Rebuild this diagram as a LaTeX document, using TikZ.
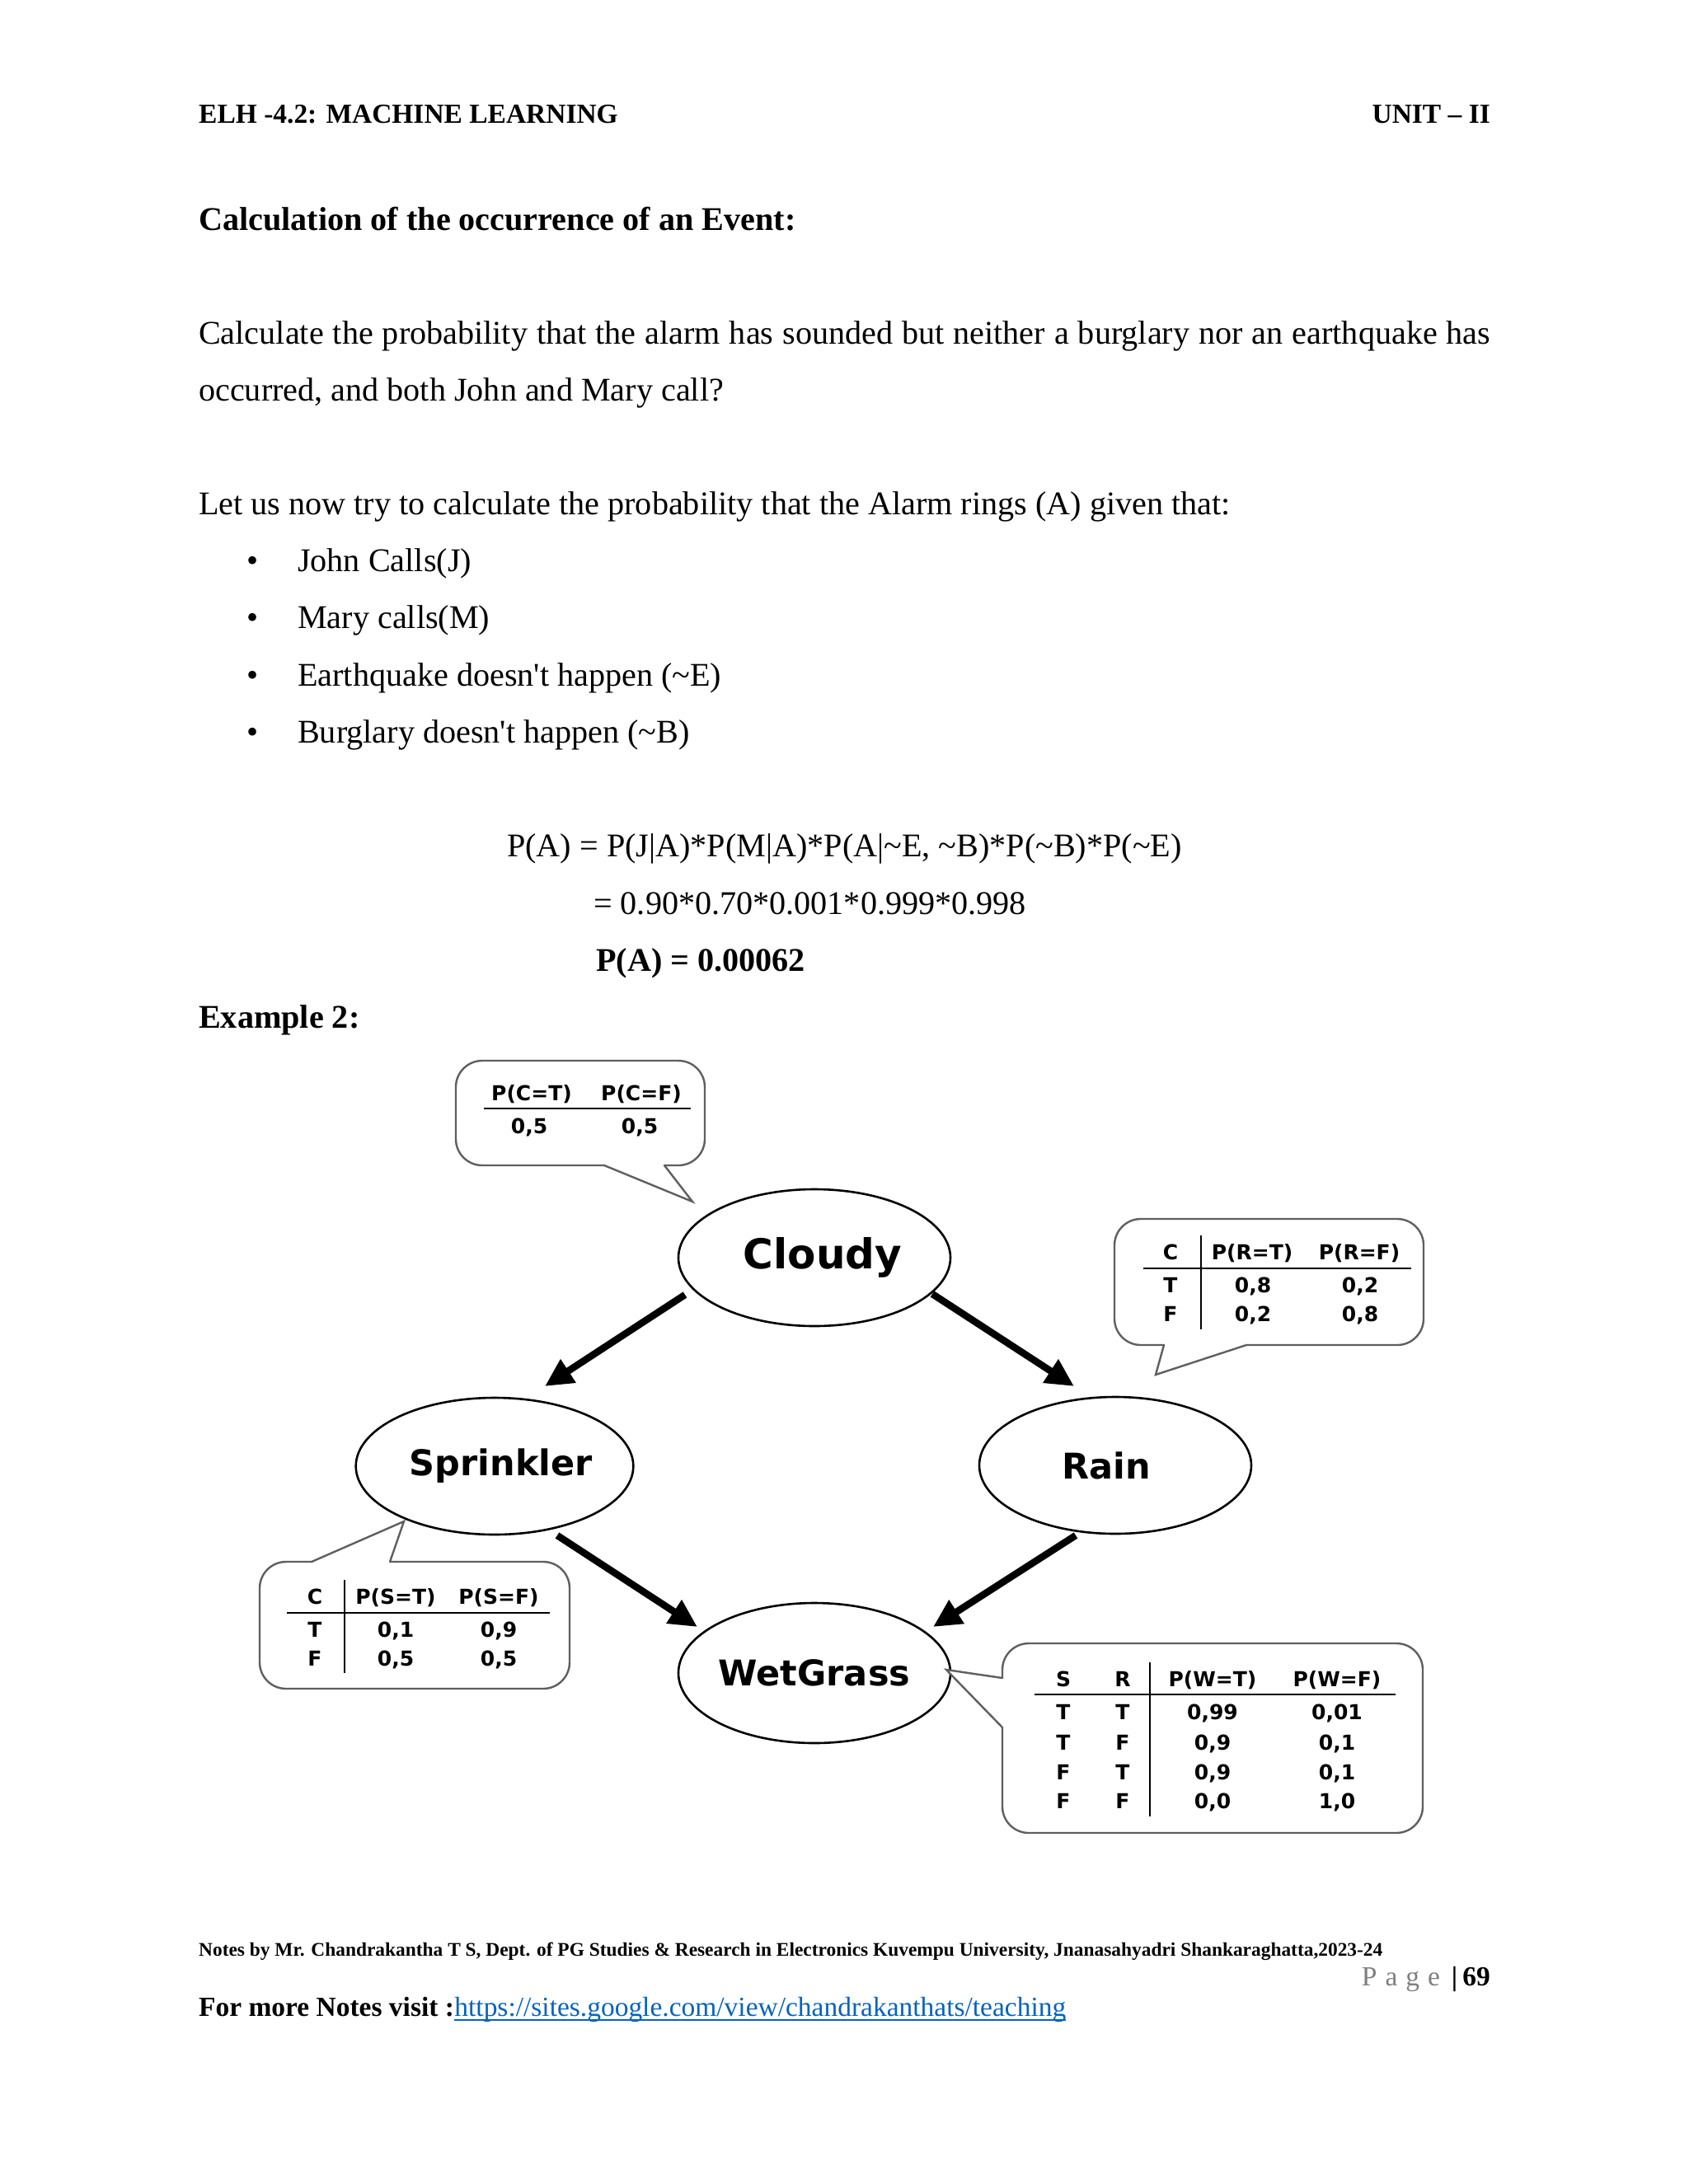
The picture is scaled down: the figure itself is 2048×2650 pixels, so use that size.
\documentclass[tikz,border=0pt]{standalone}
\usepackage{fontspec}
\setmainfont{Liberation Serif}
\newfontfamily\dv{DejaVu Sans}
\usetikzlibrary{shapes.geometric,arrows.meta,calc}
\definecolor{linkblue}{RGB}{5,99,193}
\definecolor{bubblec}{RGB}{95,95,95}
\definecolor{pagegray}{RGB}{127,127,127}
\newcommand\bodysize{\fontsize{40.16}{48}\selectfont}
\newcommand\hdrsize{\fontsize{33.47}{40}\selectfont}
\newcommand\notesize{\fontsize{23.4}{28}\selectfont}
\newcommand\tabsize{\fontsize{25}{30}\selectfont}
\begin{document}
\begin{tikzpicture}[x=1pt,y=-1pt,
  txt/.style={anchor=base west,inner sep=0,font=\bodysize},
  hdr/.style={inner sep=0,font=\hdrsize\bfseries},
  bnode/.style={ellipse,draw=black,line width=2.6pt,fill=white,minimum width=330pt,minimum height=166pt,inner sep=0,font=\dv\bfseries\fontsize{43}{50}\selectfont},
  arr/.style={line width=8.5pt,-{Triangle[length=34pt,width=32pt]}},
  bub/.style={draw=bubblec,line width=2.4pt,fill=white,rounded corners=32pt},
  tailside/.style={draw=bubblec,line width=2.4pt,line join=miter},
  tt/.style={anchor=base,inner sep=0,font=\dv\bfseries\tabsize},
  rule/.style={line width=2.8pt,draw=black}]
\useasboundingbox[fill=white] (0,0) rectangle (2048,2650);

% header
\node[hdr,anchor=base west] (h1) at (241,149) {ELH -4.2: MACHINE LEARNING};
\node[hdr,anchor=base east] (h2) at (1808,149) {UNIT \textendash{} II};

% body text
\node[txt,font=\bodysize\bfseries] (title) at (241,279) {Calculation of the occurrence of an Event:};
\node[txt] (l1) at (241,417) {\makebox[1567pt][s]{Calculate the probability that the alarm has sounded but neither a burglary nor an earthquake has}};
\node[txt] (l2) at (241,486) {occurred, and both John and Mary call?};
\node[txt] (l3) at (241,624) {Let us now try to calculate the probability that the Alarm rings (A) given that:};
\node[anchor=base,inner sep=0,font=\bodysize] (b1) at (307,693) {•};
\node[anchor=base,inner sep=0,font=\bodysize] (b2) at (307,762) {•};
\node[anchor=base,inner sep=0,font=\bodysize] (b3) at (307,832) {•};
\node[anchor=base,inner sep=0,font=\bodysize] (b4) at (307,901) {•};
\node[txt] (t1) at (361,693) {John Calls(J)};
\node[txt] (t2) at (361,762) {Mary calls(M)};
\node[txt] (t3) at (361,832) {Earthquake doesn\textquotesingle t happen (\textasciitilde E)};
\node[txt] (t4) at (361,901) {Burglary doesn\textquotesingle t happen (\textasciitilde B)};
\node[txt] (f1) at (615,1039) {P(A) = P(J|A)*P(M|A)*P(A|\textasciitilde E, \textasciitilde B)*P(\textasciitilde B)*P(\textasciitilde E)};
\node[txt] (f2) at (720,1109) {= 0.90*0.70*0.001*0.999*0.998};
\node[txt,font=\bodysize\bfseries] (f3) at (723,1178) {P(A) = 0.00062};
\node[txt,font=\bodysize\bfseries] (ex) at (241,1247) {Example 2:};

% ---------- diagram ----------
% Cloudy CPT bubble
\draw[bub] (553,1287) rectangle (855,1414);
\fill[white] (734,1410) -- (734,1417) -- (840,1458) -- (805,1417) -- (805,1410) -- cycle;
\draw[tailside] (733,1414) -- (840,1458) -- (806,1414);
\node[tt] (cc1) at (645,1335) {P(C=T)};
\node[tt] (cc2) at (778,1335) {P(C=F)};
\draw[rule] (587,1345) -- (838,1345);
\node[tt] (cc3) at (642,1375) {0,5};
\node[tt] (cc4) at (776,1375) {0,5};

% Rain CPT bubble
\draw[bub] (1352,1479) rectangle (1727,1632);
\fill[white] (1413,1628) -- (1413,1635) -- (1402,1668) -- (1511,1635) -- (1511,1628) -- cycle;
\draw[tailside] (1412,1632) -- (1402,1668) -- (1512,1632);
\node[tt] (rc1) at (1420,1528) {C};
\node[tt] (rc2) at (1519,1528) {P(R=T)};
\node[tt] (rc3) at (1649,1528) {P(R=F)};
\draw[rule] (1387,1539) -- (1712,1539);
\draw[rule] (1457,1499) -- (1457,1613);
\node[tt] (rc4) at (1420,1568) {T};
\node[tt] (rc5) at (1520,1568) {0,8};
\node[tt] (rc6) at (1650,1568) {0,2};
\node[tt] (rc7) at (1420,1603) {F};
\node[tt] (rc8) at (1520,1603) {0,2};
\node[tt] (rc9) at (1650,1603) {0,8};

% nodes
\node[bnode,font=\dv\bfseries\fontsize{50}{56}\selectfont] (cloudy) at (988,1526) {\hspace*{20pt}Cloudy};
\node[bnode] (sprinkler) at (600,1779) {\hspace*{16pt}Sprinkler};
\node[bnode] (rain) at (1353,1778) {Rain\hspace*{22pt}};
\node[bnode,minimum height=170pt] (wetgrass) at (988,2030) {WetGrass};

% Sprinkler CPT bubble
\draw[bub] (315,1895) rectangle (691,2049);
\fill[white] (379,1899) -- (379,1892) -- (490,1846) -- (472,1892) -- (472,1899) -- cycle;
\draw[tailside] (378,1895) -- (490,1846) -- (473,1895);
\node[tt] (sc1) at (382,1946) {C};
\node[tt] (sc2) at (480,1946) {P(S=T)};
\node[tt] (sc3) at (605,1946) {P(S=F)};
\draw[rule] (348,1957) -- (667,1957);
\draw[rule] (418,1917) -- (418,2030);
\node[tt] (sc4) at (382,1986) {T};
\node[tt] (sc5) at (480,1986) {0,1};
\node[tt] (sc6) at (605,1986) {0,9};
\node[tt] (sc7) at (382,2021) {F};
\node[tt] (sc8) at (480,2021) {0,5};
\node[tt] (sc9) at (605,2021) {0,5};

% WetGrass CPT bubble
\draw[bub] (1216,1994) rectangle (1726,2224);
\fill[white] (1220,2037) -- (1213,2037) -- (1148,2026) -- (1213,2095) -- (1220,2095) -- cycle;
\draw[tailside] (1216,2036) -- (1148,2026) -- (1216,2096);
\node[tt] (wc1) at (1290,2046) {S};
\node[tt] (wc2) at (1362,2046) {R};
\node[tt] (wc3) at (1471,2046) {P(W=T)};
\node[tt] (wc4) at (1622,2046) {P(W=F)};
\draw[rule] (1255,2056) -- (1693,2056);
\draw[rule] (1395,2017) -- (1395,2204);
\node[tt] (w11) at (1290,2086) {T};
\node[tt] (w12) at (1362,2086) {T};
\node[tt] (w13) at (1471,2086) {0,99};
\node[tt] (w14) at (1622,2086) {0,01};
\node[tt] (w21) at (1290,2123) {T};
\node[tt] (w22) at (1362,2123) {F};
\node[tt] (w23) at (1471,2123) {0,9};
\node[tt] (w24) at (1622,2123) {0,1};
\node[tt] (w31) at (1290,2159) {F};
\node[tt] (w32) at (1362,2159) {T};
\node[tt] (w33) at (1471,2159) {0,9};
\node[tt] (w34) at (1622,2159) {0,1};
\node[tt] (w41) at (1290,2194) {F};
\node[tt] (w42) at (1362,2194) {F};
\node[tt] (w43) at (1471,2194) {0,0};
\node[tt] (w44) at (1622,2194) {1,0};

% arrows
\coordinate (a1s) at ($(cloudy)+(-157,45)$);
\coordinate (a1e) at ($(sprinkler)+(61,-97)$);
\coordinate (a2s) at ($(cloudy)+(143,44)$);
\coordinate (a2e) at ($(rain)+(-50,-96)$);
\coordinate (a3s) at ($(sprinkler)+(76,84)$);
\coordinate (a3e) at ($(wetgrass)+(-142,-56)$);
\coordinate (a4s) at ($(rain)+(-48,85)$);
\coordinate (a4e) at ($(wetgrass)+(144,-56)$);
\draw[arr] (a1s) -- (a1e);
\draw[arr] (a2s) -- (a2e);
\draw[arr] (a3s) -- (a3e);
\draw[arr] (a4s) -- (a4e);

% footer
\node[txt,font=\notesize\bfseries] (notes) at (241,2373) {Notes by Mr. Chandrakantha T S, Dept. of PG Studies \& Research in Electronics Kuvempu University, Jnanasahyadri Shankaraghatta,2023-24};
\node[anchor=base east,inner sep=0,font=\hdrsize] (pg) at (1808,2409) {{\color{pagegray}P\hspace{10pt}a\hspace{10pt}g\hspace{10pt}e}\hspace{14pt}\textbf{|\hspace{6pt}69}};
\node[txt,font=\hdrsize\bfseries] (more) at (241,2446) {For more Notes visit :};
\node[anchor=base west,inner sep=0,font=\hdrsize,text=linkblue] (url) at (more.base east) {https://sites.google.com/view/chandrakanthats/teaching};
\draw[linkblue,line width=1.8pt] ($(url.base west)+(0,5)$) -- ($(url.base east)+(0,5)$);
\end{tikzpicture}
\end{document}
